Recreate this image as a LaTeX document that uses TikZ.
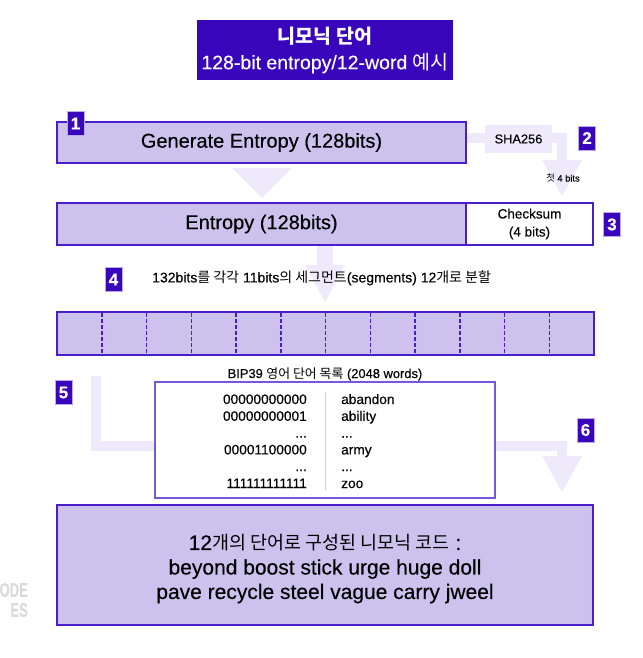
\documentclass[tikz,border=0pt]{standalone}
\usepackage{fontspec}
\setmainfont{Liberation Sans}[FakeBold=0.3]
\newfontfamily\krfont{Noto Sans CJK KR}
\newfontfamily\krsmall{Noto Sans CJK KR}[Scale=0.88]
\usetikzlibrary{arrows.meta}

\definecolor{deepviolet}{HTML}{3A06BC}
\definecolor{lavender}{HTML}{CDC2EE}
\definecolor{edgeviolet}{HTML}{4B1ECB}
\definecolor{paleband}{HTML}{EEEAFC}
\definecolor{listedge}{HTML}{7757DA}
\definecolor{markgray}{HTML}{DADADA}
\newcommand{\kr}[1]{{\krfont #1}}
\newcommand{\skipdots}{...}

\begin{document}
\begin{tikzpicture}[
  x=1pt, y=-1pt,
  mainbox/.style={
    draw=edgeviolet,
    line width=2pt,
    fill=lavender,
    inner sep=0pt,
    align=center,
    font=\fontsize{20}{24}\selectfont
  },
  listbox/.style={
    draw=listedge,
    line width=1.5pt,
    fill=white,
    inner sep=0pt
  },
  badge/.style={
    fill=deepviolet,
    draw=listedge!50,
    line width=.5pt,
    text=white,
    minimum width=17pt,
    minimum height=24pt,
    inner sep=0pt,
    font=\bfseries\fontsize{17}{20}\selectfont
  },
  band/.style={
    draw=paleband,
    line width=10pt,
    -{Triangle[width=37pt,length=37pt]}
  },
  caption/.style={
    inner sep=0pt,
    font=\fontsize{14}{17}\selectfont
  },
  listtext/.style={
    inner sep=0pt,
    font=\fontsize{13.7}{16}\selectfont
  },
  segdiv/.style={
    draw=edgeviolet,
    line width=1.5pt,
    dash pattern=on 3.5pt off 2.5pt
  },
  watermark/.style={
    inner sep=0pt,
    text=markgray,
    font=\bfseries\fontsize{20}{22}\selectfont
  },
]
\useasboundingbox (0,0) rectangle (642,658);

% block arrows first, boxes go over them
\coordinate (sha in) at (466,138);
\coordinate (sha out) at (562,203);
\draw[band, shorten >=6pt] (sha in) -| (sha out);
\coordinate (gen foot) at (262,163);
\coordinate (ent head) at (262,203);
\draw[band, line width=0pt, shorten <=5pt, shorten >=5pt,
  -{Triangle[width=60pt,length=30pt]}] (gen foot) -- (ent head);
\coordinate (ent foot) at (325,246);
\coordinate (seg head) at (325,312);
\draw[band, line width=16pt, shorten >=9pt,
  -{Triangle[width=36pt,length=38pt]}] (ent foot) -- (seg head);
\coordinate (word in) at (96,376);
\coordinate (word out) at (562,505);
\draw[band, shorten >=12pt] (word in) |- (329,446) -| (word out);

% title
\node[fill=deepviolet, text=white, minimum width=256pt, minimum height=60pt,
  inner sep=0pt, align=center, font=\fontsize{19.5}{26}\selectfont]
  (title) at (325,50) {\kr{\bfseries 니모닉 단어}\\128-bit entropy/12-word \kr{예시}};

% step 1 and 2
\node[mainbox, minimum width=409pt, minimum height=41pt] (gen) at (261.5,142.5)
  {Generate Entropy (128bits)};
\node[badge] (b1) at (75.5,123.5) {1};
\node[fill=paleband, minimum width=67pt, minimum height=28pt, inner sep=0pt,
  font=\fontsize{12.8}{15}\selectfont] (sha) at (518.5,139) {SHA256};
\node[badge] (b2) at (587,138) {2};
\node[inner sep=0pt, font=\fontsize{9.3}{11}\selectfont] (first) at (563,178)
  {\kr{첫} 4 bits};

% step 3
\node[mainbox, minimum width=409pt, minimum height=42pt] (ent) at (261.5,224)
  {Entropy (128bits)};
\node[mainbox, fill=white, minimum width=127pt, minimum height=42pt,
  font=\fontsize{13.5}{18}\selectfont] (chk) at (529.5,224) {Checksum\\(4 bits)};
\node[badge] (b3) at (612,224.5) {3};

% step 4
\node[badge] (b4) at (113.5,279.5) {4};
\node[caption, anchor=west] (split) at (152,278)
  {132bits\kr{를 각각} 11bits\kr{의 세그먼트}(segments) 12\kr{개로 분할}};
\node[mainbox, minimum width=537pt, minimum height=43pt] (seg) at (325.5,333.5) {};
\foreach \k in {1,...,11}
  \draw[segdiv] (57+44.75*\k,313) -- (57+44.75*\k,354);

% step 5
\node[badge] (b5) at (63.5,392.5) {5};
\node[inner sep=0pt, font=\fontsize{12.9}{15}\selectfont] (listname) at (325,374)
  {BIP39 \kr{영어 단어 목록} (2048 words)};
\node[listbox, minimum width=340pt, minimum height=116pt] (list) at (325,440) {};
\draw[draw=black!20, line width=1pt] (325,392) -- (325,490);
\foreach \bits/\word [count=\r from 0] in
  {00000000000/abandon, 00000000001/ability, \skipdots/\skipdots,
   00001100000/army, \skipdots/\skipdots, 111111111111/zoo}
{
  \node[listtext, anchor=base east] (bits\r) at (307,404+16.8*\r) {\bits};
  \node[listtext, anchor=base west] (word\r) at (341,404+16.8*\r) {\word};
}

% step 6
\node[badge] (b6) at (585.5,430) {6};
\node[mainbox, minimum width=536pt, minimum height=120pt] (code) at (325,565) {};
\node[inner sep=0pt, align=center, font=\fontsize{21}{24.5}\selectfont]
  (codetext) at (325,569)
  {12{\krsmall 개의 단어로 구성된 니모닉 코드} :\\
   beyond boost stick urge huge doll\\
   pave recycle steel vague carry jweel};

% logo remnant on the left edge
\node[watermark, anchor=east] (mark1) at (28,590) {\scalebox{0.65}[1]{ODE}};
\node[watermark, anchor=east] (mark2) at (28,610) {\scalebox{0.65}[1]{ES}};
\end{tikzpicture}
\end{document}
